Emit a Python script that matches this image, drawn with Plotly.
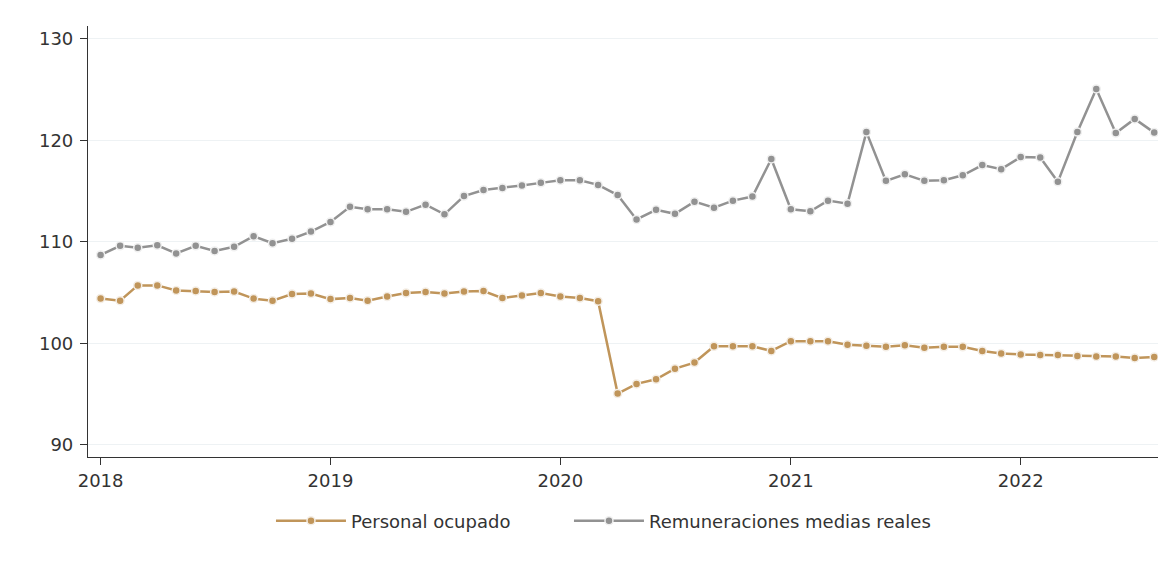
import pandas as pd
import plotly.graph_objects as go

dates = pd.date_range("2018-01-01", "2022-08-01", freq="MS")

personal_ocupado = [
    104.4, 104.2, 105.7, 105.7, 105.2, 105.15, 105.05, 105.1, 104.4, 104.2,
    104.85, 104.9, 104.35, 104.45, 104.2, 104.6, 104.95, 105.05, 104.9, 105.1,
    105.15, 104.45, 104.7, 104.95, 104.6, 104.45, 104.15, 95.05, 96.0, 96.45,
    97.5, 98.1, 99.7, 99.7, 99.7, 99.25, 100.2, 100.2, 100.2, 99.85,
    99.75, 99.65, 99.8, 99.55, 99.65, 99.65, 99.25, 99.0, 98.9, 98.85,
    98.85, 98.75, 98.7, 98.7, 98.55, 98.65,
]

remuneraciones = [
    108.7, 109.6, 109.4, 109.65, 108.85, 109.6, 109.1, 109.5, 110.55, 109.85,
    110.3, 111.0, 111.95, 113.45, 113.2, 113.2, 112.95, 113.65, 112.7, 114.5,
    115.1, 115.3, 115.55, 115.8, 116.05, 116.05, 115.6, 114.6, 112.2, 113.15,
    112.75, 113.95, 113.35, 114.05, 114.45, 118.15, 113.2, 113.0, 114.05, 113.75,
    120.8, 116.0, 116.65, 116.0, 116.05, 116.55, 117.55, 117.15, 118.35, 118.3,
    115.9, 120.8, 125.05, 120.7, 122.1, 120.75,
]

y_ticks = [90, 100, 110, 120, 130]
x_ticks = ["2018-01-01", "2019-01-01", "2020-01-01", "2021-01-01", "2022-01-01"]
x_tick_labels = ["2018", "2019", "2020", "2021", "2022"]

FONT = "DejaVu Sans"

fig = go.Figure()
fig.add_trace(go.Scatter(
    x=dates, y=personal_ocupado, name="Personal ocupado", legend="legend",
    mode="lines+markers", cliponaxis=False,
    line=dict(color="#C0955A", width=2.5),
    marker=dict(color="#C0955A", size=8, line=dict(color="#F4EEE6", width=1.5)),
))
fig.add_trace(go.Scatter(
    x=dates, y=remuneraciones, name="Remuneraciones medias reales", legend="legend2",
    mode="lines+markers", cliponaxis=False,
    line=dict(color="#929292", width=2.5),
    marker=dict(color="#929292", size=8, line=dict(color="#F0F0F0", width=1.5)),
))

legend_common = dict(
    orientation="h", xanchor="left", y=-0.1485, yanchor="middle",
    font=dict(family=FONT, size=18, color="#333333"),
    itemwidth=70, bgcolor="rgba(0,0,0,0)",
)

fig.update_layout(
    width=1158, height=562,
    margin=dict(l=88, r=0, t=26, b=105),
    plot_bgcolor="white", paper_bgcolor="white",
    font=dict(family=FONT, size=17, color="#333333"),
    showlegend=True,
    legend=dict(x=0.171, **legend_common),
    legend2=dict(x=0.4495, **legend_common),
    xaxis=dict(
        range=["2017-12-12", "2022-08-07"],
        tickvals=x_ticks, ticktext=x_tick_labels,
        showgrid=False, zeroline=False,
        showline=True, linecolor="#333333", linewidth=1.2,
        ticks="outside", ticklen=7, tickcolor="#333333",
        tickfont=dict(family=FONT, size=18, color="#333333"),
    ),
    yaxis=dict(
        range=[88.8, 131.25],
        tickvals=y_ticks,
        showgrid=True, gridcolor="#EEF2F4", gridwidth=1.2, zeroline=False,
        showline=True, linecolor="#333333", linewidth=1.2,
        ticks="outside", ticklen=7, tickcolor="#333333",
        ticklabelstandoff=3,
        tickfont=dict(family=FONT, size=18, color="#333333"),
    ),
)

fig.write_html(
    "out.html",
    config={"displayModeBar": False},
    post_script="document.body.style.margin='0';document.body.style.overflow='hidden';",
)
